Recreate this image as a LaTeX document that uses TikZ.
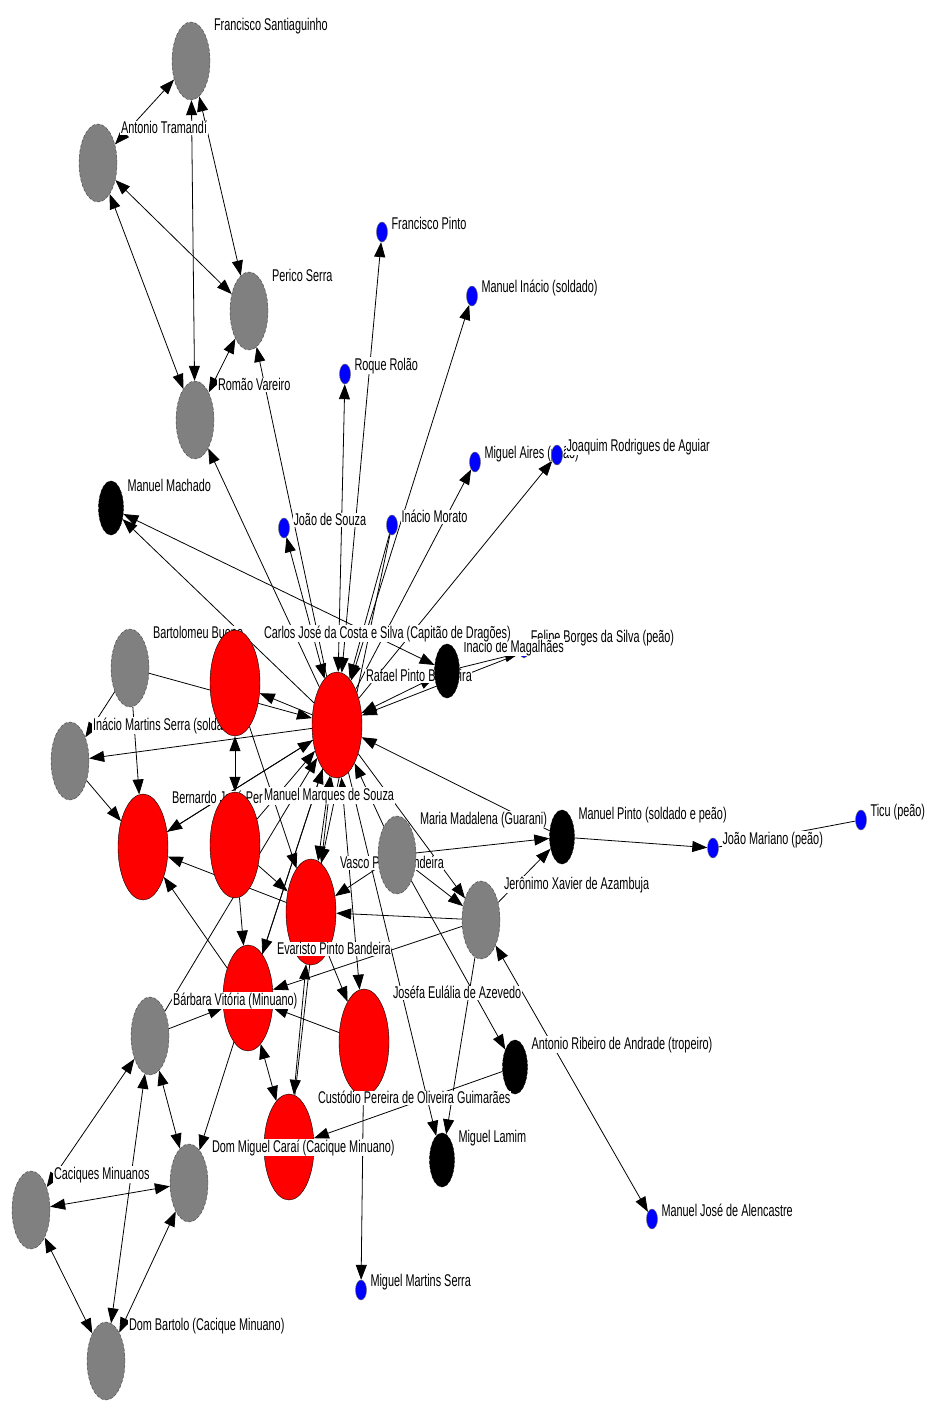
\documentclass[tikz,border=0pt]{standalone}
\usepackage{fontspec}
\newfontfamily\labfont[FakeStretch=0.64]{Liberation Sans}
\usepackage{tikz}
\usetikzlibrary{arrows.meta,shapes.geometric,calc,backgrounds}
\definecolor{NodeGray}{HTML}{808080}
\definecolor{NodeRed}{HTML}{FF0000}
\definecolor{NodeBlue}{HTML}{0000FF}
\begin{document}
\begin{tikzpicture}[x=1pt,y=-1pt,
gnode/.style={ellipse,draw=black!75,densely dashed,fill=NodeGray,minimum width=38pt,minimum height=78pt,inner sep=0pt},
rnode/.style={ellipse,draw=black,fill=NodeRed,minimum width=50pt,minimum height=106pt,inner sep=0pt},
knode/.style={ellipse,draw=black,densely dashed,fill=black,minimum width=25pt,minimum height=54pt,inner sep=0pt},
bnode/.style={ellipse,draw=black!60,fill=NodeBlue,minimum width=11pt,minimum height=20pt,inner sep=0pt},
lab/.style={anchor=west,fill=white,inner sep=0.6pt,font=\labfont\fontsize{17}{18}\selectfont},
arr/.style={-{Triangle[length=15pt,width=11pt]},line width=0.8pt},
barr/.style={{Triangle[length=15pt,width=11pt]}-{Triangle[length=15pt,width=11pt]},line width=0.8pt},
link/.style={line width=0.8pt}
]
\useasboundingbox (0,0) rectangle (929,1401);
% top group
\node[gnode] (FS) at (191,61) {};
\node[lab] (FS-l) at ($(FS.east |- FS.north)+(3,4)$) {Francisco Santiaguinho};
\node[gnode] (AT) at (98,163) {};
\node[lab] (AT-l) at ($(AT.east |- AT.north)+(3,4)$) {Antonio Tramandí};
\node[gnode] (PS) at (249,311) {};
\node[lab] (PS-l) at ($(PS.east |- PS.north)+(3,4)$) {Perico Serra};
\node[gnode] (RV) at (195,420) {};
\node[lab] (RV-l) at ($(RV.east |- RV.north)+(3,4)$) {Romão Vareiro};
% blue ones
\node[bnode] (FPi) at (382,232) {};
\node[lab] (FPi-l) at ($(FPi.east |- FPi.north)+(3,2)$) {Francisco Pinto};
\node[bnode] (MI) at (472,296) {};
\node[lab] (MI-l) at ($(MI.east |- MI.north)+(3,2)$) {Manuel Inácio (soldado)};
\node[bnode] (RR) at (345,374) {};
\node[lab] (RR-l) at ($(RR.east |- RR.north)+(3,2)$) {Roque Rolão};
\node[bnode] (MA) at (475,462) {};
\node[lab] (MA-l) at ($(MA.east |- MA.north)+(3,2)$) {Miguel Aires (peão)};
\node[bnode] (JRA) at (557,455) {};
\node[lab] (JRA-l) at ($(JRA.east |- JRA.north)+(3,2)$) {Joaquim Rodrigues de Aguiar};
\node[bnode] (JS) at (284,528) {};
\node[lab] (JS-l) at ($(JS.east |- JS.north)+(3,2)$) {João de Souza};
\node[bnode] (IMo) at (392,525) {};
\node[lab] (IMo-l) at ($(IMo.east |- IMo.north)+(3,2)$) {Inácio Morato};
\node[knode] (MMach) at (111,508) {};
\node[lab] (MMach-l) at ($(MMach.east |- MMach.north)+(3,5)$) {Manuel Machado};
% centre
\node[rnode] (R) at (337,725) {};
\node[lab] (R-l) at ($(R.east |- R.north)+(3,4)$) {Rafael Pinto Bandeira};
\node[bnode,minimum width=8pt,minimum height=12pt] (Fel) at (524,652) {};
\node[lab] (Fel-l) at (530,638) {Felipe Borges da Silva (peão)};
\node[knode] (IM2) at (447,671) {};
\node[lab] (IM2-l) at ($(IM2.east |- IM2.north)+(3,4)$) {Inácio de Magalhães};
\node[gnode] (BB) at (130,668) {};
\node[lab] (BB-l) at ($(BB.east |- BB.north)+(3,4)$) {Bartolomeu Bueno};
\node[gnode] (IMS) at (70,761) {};
\node[lab] (IMS-l) at ($(IMS.east |- IMS.north)+(3,4)$) {Inácio Martins Serra (soldado)};
\node[rnode] (C) at (235,683) {};
\node[lab] (C-l) at ($(C.east |- C.north)+(3,4)$) {Carlos José da Costa e Silva (Capitão de Dragões)};
\node[rnode] (Ber) at (143,847) {};
\node[lab] (Ber-l) at ($(Ber.east |- Ber.north)+(3,4)$) {Bernardo José Pereira};
\node[rnode] (MMS) at (235,845) {};
\node[lab] (MMS-l) at ($(MMS.east |- MMS.north)+(3,4)$) {Manuel Marques de Souza};
\node[rnode] (V) at (311,912) {};
\node[lab] (V-l) at ($(V.east |- V.north)+(3,4)$) {Vasco Pinto Bandeira};
\node[gnode] (MM) at (397,855) {};
\node[lab] (MM-l) at ($(MM.east |- MM.north)+(3,4)$) {Maria Madalena (Guarani)};
\node[knode] (MP) at (562,837) {};
\node[lab] (MP-l) at ($(MP.east |- MP.north)+(3,5)$) {Manuel Pinto (soldado e peão)};
\node[bnode] (JM) at (713,848) {};
\node[lab] (JM-l) at ($(JM.east |- JM.north)+(3,2)$) {João Mariano (peão)};
\node[bnode] (Ticu) at (861,820) {};
\node[lab] (Ticu-l) at ($(Ticu.east |- Ticu.north)+(3,2)$) {Ticu (peão)};
\node[gnode] (JX) at (481,920) {};
\node[lab] (JX-l) at ($(JX.east |- JX.north)+(3,4)$) {Jerônimo Xavier de Azambuja};
\node[rnode] (E) at (248,998) {};
\node[lab] (E-l) at ($(E.east |- E.north)+(3,4)$) {Evaristo Pinto Bandeira};
\node[gnode] (BV) at (150,1036) {};
\node[lab] (BV-l) at ($(BV.east |- BV.north)+(3,4)$) {Bárbara Vitória (Minuano)};
\node[rnode] (J) at (364,1042) {};
\node[lab] (J-l) at ($(J.east |- J.north)+(3,4)$) {Joséfa Eulália de Azevedo};
\node[knode] (AR) at (515,1067) {};
\node[lab] (AR-l) at ($(AR.east |- AR.north)+(3,5)$) {Antonio Ribeiro de Andrade (tropeiro)};
\node[rnode] (CP) at (289,1147) {};
\node[lab] (CP-l) at ($(CP.east |- CP.north)+(3,4)$) {Custódio Pereira de Oliveira Guimarães};
\node[gnode] (DM) at (189,1183) {};
\node[lab] (DM-l) at ($(DM.east |- DM.north)+(3,4)$) {Dom Miguel Caraí (Cacique Minuano)};
\node[knode] (ML) at (442,1160) {};
\node[lab] (ML-l) at ($(ML.east |- ML.north)+(3,5)$) {Miguel Lamim};
\node[gnode] (CM) at (31,1210) {};
\node[lab] (CM-l) at ($(CM.east |- CM.north)+(3,4)$) {Caciques Minuanos};
\node[bnode] (MMSe) at (361,1290) {};
\node[lab] (MMSe-l) at ($(MMSe.east |- MMSe.north)+(3,2)$) {Miguel Martins Serra};
\node[bnode] (MJA) at (652,1219) {};
\node[lab] (MJA-l) at ($(MJA.east |- MJA.north)+(3,2)$) {Manuel José de Alencastre};
\node[gnode] (DB) at (106,1361) {};
\node[lab] (DB-l) at ($(DB.east |- DB.north)+(3,4)$) {Dom Bartolo (Cacique Minuano)};
% ties
\begin{scope}[on background layer]
\fill[white] (0,0) rectangle (929,1401);
\draw[barr] (AT) -- (FS);
\draw[barr] (FS) -- (PS);
\draw[barr] (FS) -- (RV);
\draw[barr] (AT) -- (PS);
\draw[barr] (AT) -- (RV);
\draw[barr] (RV) -- (PS);
\draw[arr] (R) -- (PS);
\draw[arr] (R) -- (RV);
\draw[barr] (R) -- (FPi);
\draw[barr] (R) -- (RR);
\draw[barr] (R) -- (MI);
\draw[arr] (R) -- (MA);
\draw[arr] (R) -- (JRA);
\draw[barr] (R) -- (JS);
\draw[arr] (IMo) -- (R);
\draw[arr] (IMo) -- (V);
\draw[arr] (R) -- (MMach);
\draw[barr] (MMach) -- (IM2);
\draw[arr] (R) -- (C);
\draw[arr] (BB) -- (R);
\draw[arr] (R) -- (IMS);
\draw[arr] (BB) -- (IMS);
\draw[arr] (BB) -- (Ber);
\draw[arr] (IMS) -- (Ber);
\draw[arr] (R) -- (Ber);
\draw[arr] (V) -- (Ber);
\draw[arr] (E) -- (Ber);
\draw[barr] (MMS) -- (C);
\draw[arr] (C) -- (V);
\draw[arr] (Ber) -- (R);
\draw[arr] (MMS) -- (R);
\draw[barr] (R) -- (V);
\draw[barr] (R) -- (J);
\draw[arr] (MMS) -- (V);
\draw[arr] (MMS) -- (E);
\draw[arr] (R) -- (E);
\draw[arr] (BV) -- (R);
\draw[barr] (IM2) -- (R);
\draw[arr] (Fel) -- (R);
\draw[arr] (IM2) -- (Fel);
\draw[arr] (MP) -- (R);
\draw[arr] (MP) -- (JM);
\draw[link] (Ticu) -- (JM);
\draw[arr] (MM) -- (MP);
\draw[arr] (JX) -- (MP);
\draw[arr] (R) -- (JX);
\draw[arr] (MM) -- (JX);
\draw[arr] (MM) -- (R);
\draw[arr] (MM) -- (V);
\draw[arr] (JX) -- (V);
\draw[arr] (JX) -- (E);
\draw[barr] (JX) -- (MJA);
\draw[arr] (MM) -- (AR);
\draw[arr] (AR) -- (CP);
\draw[arr] (JX) -- (ML);
\draw[arr] (R) -- (ML);
\draw[arr] (J) -- (MMSe);
\draw[arr] (J) -- (E);
\draw[arr] (BV) -- (E);
\draw[arr] (E) -- (R);
\draw[arr] (CP) -- (R);
\draw[arr] (E) -- (DM);
\draw[barr] (E) -- (CP);
\draw[barr] (V) -- (CP);
\draw[arr] (V) -- (J);
\draw[barr] (BV) -- (DM);
\draw[barr] (CM) -- (BV);
\draw[barr] (CM) -- (DM);
\draw[barr] (CM) -- (DB);
\draw[barr] (DM) -- (DB);
\draw[barr] (BV) -- (DB);
\end{scope}
\end{tikzpicture}
\end{document}
